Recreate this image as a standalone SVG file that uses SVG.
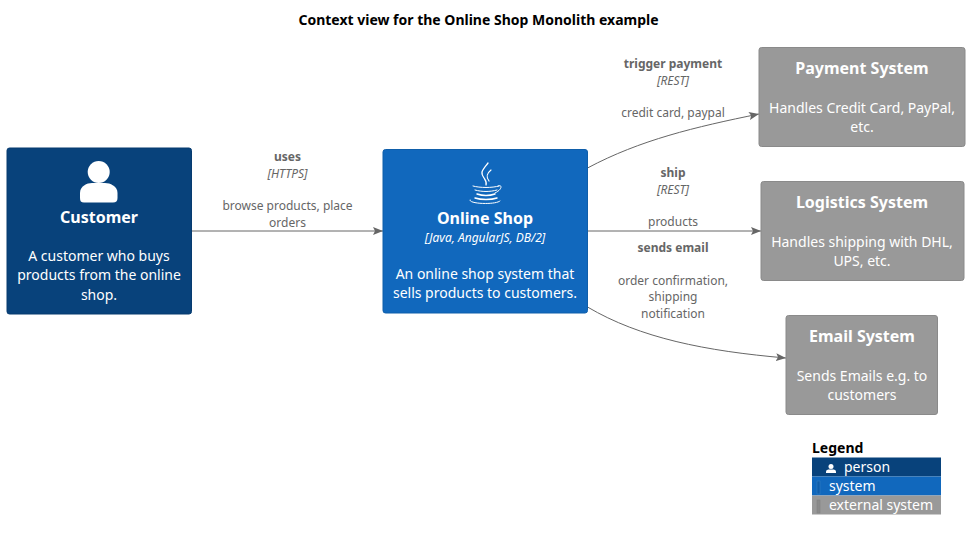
<svg xmlns="http://www.w3.org/2000/svg" width="970" height="540" viewBox="0 0 970 540">
<style>
text{font-family:"Noto Sans","Open Sans",sans-serif;text-anchor:middle}
.t{font-size:14px;font-weight:700;fill:#000}
.n{font-size:16px;font-weight:700;fill:#fff}
.d{font-size:14px;fill:#fff}
.s{font-size:12px;font-style:italic;fill:#fff}
.lb{font-size:12px;font-weight:700;fill:#666}
.li{font-size:12px;font-style:italic;fill:#666}
.l{font-size:12px;fill:#666}
.e{fill:none;stroke:#666;stroke-width:1}
.lg{font-size:14px;fill:#fff;text-anchor:start}
</style>
<defs>
<marker id="a" markerUnits="userSpaceOnUse" markerWidth="10" markerHeight="8" refX="10" refY="4" orient="auto"><path d="M0 0L10 4L0 8L2 4Z" fill="#666"/></marker>
</defs>
<text class="t" x="478.500" y="25">Context view for the Online Shop Monolith example</text>
<g id="connectors">
<path class="e" marker-end="url(#a)" d="M191.500 231H383"/>
<path class="e" marker-end="url(#a)" d="M587.500 168C640 140 695 127 759 114"/>
<path class="e" marker-end="url(#a)" d="M587.500 231H761"/>
<path class="e" marker-end="url(#a)" d="M587.500 307C640 338 705 351 786 358"/>
</g>
<g id="edge-labels">
<text class="lb" x="287.500" y="161">uses</text>
<text class="li" x="287.500" y="178">[HTTPS]</text>
<text class="l" x="287.500" y="210">browse products, place</text>
<text class="l" x="287.500" y="227">orders</text>
<text class="lb" x="673" y="68">trigger payment</text>
<text class="li" x="673" y="85">[REST]</text>
<text class="l" x="673" y="117">credit card, paypal</text>
<text class="lb" x="673" y="177">ship</text>
<text class="li" x="673" y="194">[REST]</text>
<text class="l" x="673" y="226">products</text>
<text class="lb" x="673" y="252">sends email</text>
<text class="l" x="673" y="285">order confirmation,</text>
<text class="l" x="673" y="301">shipping</text>
<text class="l" x="673" y="318">notification</text>
</g>
<g id="customer">
<rect x="7" y="148" width="184.500" height="166" rx="2.500" fill="#08427b" stroke="#073b6f"/>
<circle cx="98.700" cy="172" r="11" fill="#fff"/>
<path d="M80 196V193C80 186 87 183 92 183H105C110 183 117.500 186 117.500 193V198C117.500 201 116 202.500 113 202.500H84C81 202.500 80 201 80 198Z" fill="#fff"/>
<text class="n" x="99" y="223">Customer</text>
<text class="d" x="99" y="261">A customer who buys</text>
<text class="d" x="99" y="280">products from the online</text>
<text class="d" x="99" y="300">shop.</text>
</g>
<g id="online-shop">
<rect x="383" y="149.500" width="204.500" height="163.500" rx="2.500" fill="#1168bd" stroke="#0f5eaa"/>
<g fill="none" stroke="#fff" stroke-linecap="round">
<path d="M488 163C482 171 480 172 484 178C486 181 487 182 486 185" stroke-width="1.300"/>
<path d="M491 170C486 174 486 177 489 181" stroke-width="1.200"/>
<path d="M473 186C480 188 492 188 499 186" stroke-width="1"/>
<path d="M475 190C482 192 490 192 497 190" stroke-width="1"/>
<path d="M477 194C483 196 489 196 495 194" stroke-width="1.500"/>
<path d="M498 186C503 184 502 190 495 193" stroke-width="1"/>
<path d="M475 198C481 200 491 200 497 198" stroke-width="1.500"/>
<path d="M470 200C468 204 496 205 500 201" stroke-width="1"/>
</g>
<text class="n" x="485" y="224">Online Shop</text>
<text class="s" x="485" y="242">[Java, AngularJS, DB/2]</text>
<text class="d" x="485" y="279">An online shop system that</text>
<text class="d" x="485" y="298">sells products to customers.</text>
</g>
<g id="payment-system">
<rect x="759" y="47.500" width="206" height="99" rx="2.500" fill="#999" stroke="#8a8a8a"/>
<text class="n" x="862" y="74">Payment System</text>
<text class="d" x="862" y="113">Handles Credit Card, PayPal,</text>
<text class="d" x="862" y="132">etc.</text>
</g>
<g id="logistics-system">
<rect x="761" y="181.500" width="203" height="99" rx="2.500" fill="#999" stroke="#8a8a8a"/>
<text class="n" x="862" y="208">Logistics System</text>
<text class="d" x="862" y="247">Handles shipping with DHL,</text>
<text class="d" x="862" y="266">UPS, etc.</text>
</g>
<g id="email-system">
<rect x="786" y="315.500" width="151.500" height="99" rx="2.500" fill="#999" stroke="#8a8a8a"/>
<text class="n" x="862" y="342">Email System</text>
<text class="d" x="862" y="381">Sends Emails e.g. to</text>
<text class="d" x="862" y="400">customers</text>
</g>
<g id="legend">
<text x="812" y="453" style="font-size:14px;font-weight:700;fill:#000;text-anchor:start">Legend</text>
<rect x="812" y="457.500" width="129" height="19" fill="#08427b"/>
<rect x="812" y="476.500" width="129" height="19" fill="#1168bd"/>
<rect x="812" y="495.500" width="129" height="19" fill="#999"/>
<circle cx="831" cy="466.500" r="2.500" fill="#fff"/>
<path d="M826 473V471.500C826 470 828 469.500 829 469.500H833C834 469.500 836 470 836 471.500V473Z" fill="#fff"/>
<rect x="817" y="481" width="3" height="13" fill="#0f5eaa" stroke="#3a7fc4" stroke-width=".5"/>
<rect x="817" y="500" width="3" height="13" fill="#8a8a8a" stroke="#808080" stroke-width=".5"/>
<text class="lg" x="844" y="472">person</text>
<text class="lg" x="829" y="491">system</text>
<text class="lg" x="829" y="510">external system</text>
</g>
</svg>
